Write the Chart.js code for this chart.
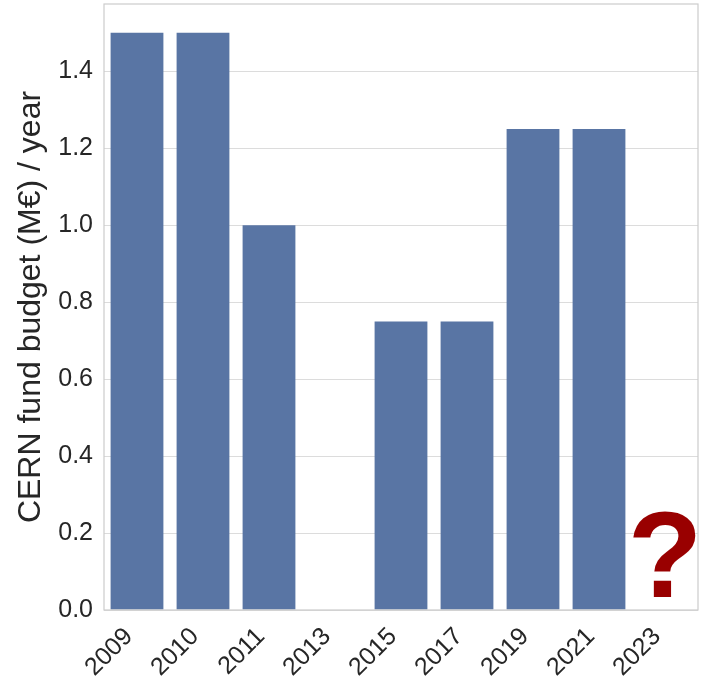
<!DOCTYPE html>
<html>
<head>
<meta charset="utf-8">
<script src="https://cdn.jsdelivr.net/npm/chart.js@4"></script>
<style>
  html, body { margin: 0; padding: 0; background: #ffffff; }
  #wrap { width: 701px; height: 681px; }
</style>
</head>
<body>
<div id="wrap"><canvas id="myChart" width="701" height="681"></canvas></div>
<script>
let years = ['2009', '2010', '2011', '2013', '2015', '2017', '2019', '2021', '2023'];
let budget = [1.5, 1.5, 1.0, 0, 0.75, 0.75, 1.25, 1.25, 0];
let yTicks = [0, 0.2, 0.4, 0.6, 0.8, 1.0, 1.2, 1.4];
let unknownYear = '2023';

const barColor = '#5975a4';
const textColor = '#262626';
const gridColor = '#dcdcdc';
const fontFamily = '"Liberation Sans", Arial, sans-serif';

// box around the plot + the red question mark for the unknown year
const framePlugin = {
    id: 'frame',
    afterDraw(chart) {
        let ctx = chart.ctx;
        let area = chart.chartArea;
        ctx.save();
        ctx.strokeStyle = '#cccccc';
        ctx.lineWidth = 1.2;
        ctx.strokeRect(area.left, area.top, area.right - area.left, area.bottom - area.top);

        let x = chart.scales.x.getPixelForValue(years.indexOf(unknownYear));
        let y = chart.scales.y.getPixelForValue(0.035);
        ctx.fillStyle = '#990000';
        ctx.font = 'bold 122px ' + fontFamily;
        ctx.textAlign = 'center';
        ctx.textBaseline = 'alphabetic';
        ctx.fillText('?', x, y);
        ctx.restore();
    }
};

function loadChart() {
    const ctx = document.getElementById('myChart');
    new Chart(ctx, {
        type: 'bar',
        data: {
            labels: years,
            datasets: [{
                data: budget,
                backgroundColor: barColor,
                borderColor: barColor,
                borderWidth: 0,
                categoryPercentage: 1.0,
                barPercentage: 0.8
            }]
        },
        options: {
            responsive: false,
            animation: false,
            layout: { padding: { top: 4, right: 3, left: 0, bottom: 0 } },
            plugins: {
                legend: { display: false },
                tooltip: { enabled: false }
            },
            scales: {
                x: {
                    grid: { display: false },
                    border: { display: false },
                    ticks: {
                        color: textColor,
                        font: { family: fontFamily, size: 25 },
                        maxRotation: 45,
                        minRotation: 45,
                        padding: 4,
                        labelOffset: -8
                    },
                    afterFit(scale) {
                        scale.height = 71;
                        scale.paddingLeft = 0;
                        scale.paddingRight = 0;
                    }
                },
                y: {
                    min: 0,
                    max: 1.575,
                    grid: { color: gridColor, lineWidth: 1, drawTicks: false },
                    border: { display: false },
                    afterBuildTicks(scale) {
                        scale.ticks = yTicks.map(v => ({ value: v }));
                    },
                    ticks: {
                        color: textColor,
                        padding: 11,
                        font: { family: fontFamily, size: 25 },
                        callback: v => Number(v).toFixed(1)
                    },
                    title: {
                        display: true,
                        text: 'CERN fund budget (M€) / year',
                        color: textColor,
                        font: { family: fontFamily, size: 32 },
                        padding: { top: 12, bottom: 0 }
                    },
                    afterFit(scale) {
                        scale.width = 104;
                        scale.paddingTop = 0;
                        scale.paddingBottom = 0;
                    }
                }
            }
        },
        plugins: [framePlugin]
    });
}

loadChart();
</script>
</body>
</html>
